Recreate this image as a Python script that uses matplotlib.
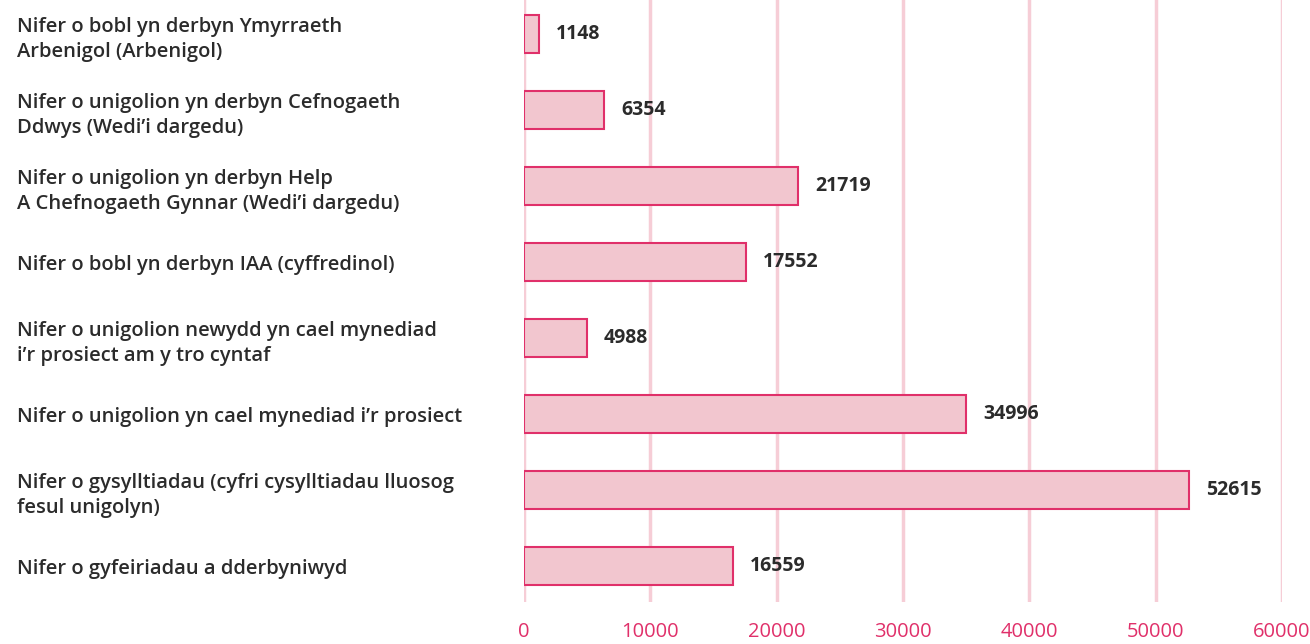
import matplotlib.pyplot as plt

# === Data ===
labels = [
    "Nifer o bobl yn derbyn Ymyrraeth\nArbenigol (Arbenigol)",
    "Nifer o unigolion yn derbyn Cefnogaeth\nDdwys (Wedi\u2019i dargedu)",
    "Nifer o unigolion yn derbyn Help\nA Chefnogaeth Gynnar (Wedi\u2019i dargedu)",
    "Nifer o bobl yn derbyn IAA (cyffredinol)",
    "Nifer o unigolion newydd yn cael mynediad\ni\u2019r prosiect am y tro cyntaf",
    "Nifer o unigolion yn cael mynediad i\u2019r prosiect",
    "Nifer o gysylltiadau (cyfri cysylltiadau lluosog\nfesul unigolyn)",
    "Nifer o gyfeiriadau a dderbyniwyd",
]
values = [1148, 6354, 21719, 17552, 4988, 34996, 52615, 16559]
x_ticks = [0, 10000, 20000, 30000, 40000, 50000, 60000]

pink = "#e0306a"
fill = "#f2c6cf"
grid = "#f6cdd6"

plt.rcParams['font.family'] = ['Open Sans', 'DejaVu Sans']

fig = plt.figure(figsize=(13.1, 6.44), dpi=100)
ax = fig.add_axes([0.4, 0.065, 0.5786, 0.935])

pos = list(range(len(values)))
ax.barh(pos, values, height=0.5, color=fill, edgecolor=pink, linewidth=1.5, zorder=3)

for y, v in zip(pos, values):
    ax.text(v + 1350, y, str(v), va="center", ha="left", fontsize=14,
            fontweight="bold", color="#2b2b2b", zorder=4)

ax.set_xlim(0, 60000)
ax.set_ylim(7.47, -0.45)
ax.set_xticks(x_ticks)
ax.set_xticklabels([str(t) for t in x_ticks], color=pink, fontsize=14.5)
ax.tick_params(axis="x", length=0, pad=14)

ax.set_yticks(pos)
ax.set_yticklabels(labels, fontsize=14.5, fontweight="semibold", color="#2b2b2b",
                   ha="left", linespacing=1.35)
ax.tick_params(axis="y", length=0, pad=365)

ax.grid(axis="x", color=grid, linewidth=2.5, zorder=0)
for s in ax.spines.values():
    s.set_visible(False)

fig.savefig("out.png", dpi=100)
